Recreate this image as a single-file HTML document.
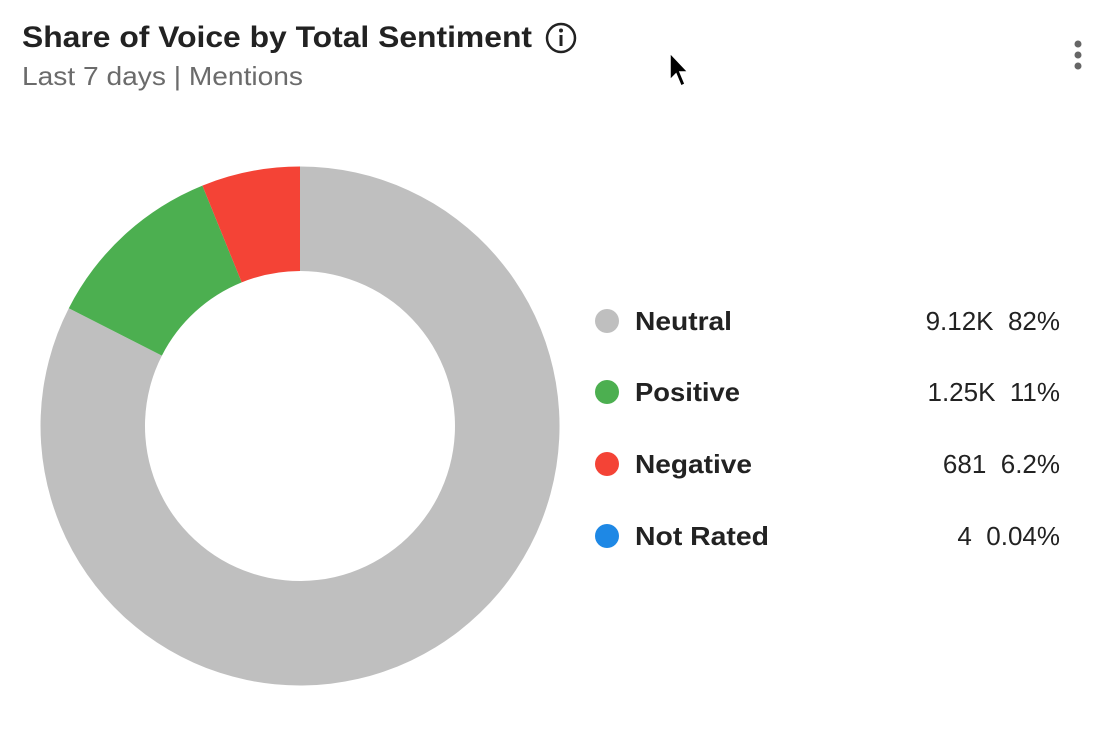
<!DOCTYPE html>
<html><head><style>
body{margin:0;width:1120px;height:750px;background:#fff;overflow:hidden;font-family:"Liberation Sans",Arial,sans-serif;}
</style></head><body>
<svg width="1120" height="750" xmlns="http://www.w3.org/2000/svg">
<text x="22" y="47" font-size="30" font-weight="bold" fill="#222" font-family="Liberation Sans, sans-serif" textLength="510" lengthAdjust="spacingAndGlyphs">Share of Voice by Total Sentiment</text>
<circle cx="561" cy="38" r="14" fill="none" stroke="#222" stroke-width="2.5"/>
<circle cx="561" cy="30.5" r="2" fill="#222"/>
<rect x="559.5" y="35" width="3" height="11" fill="#222"/>
<text x="22" y="85" font-size="26" fill="#6b6b6b" font-family="Liberation Sans, sans-serif" textLength="281" lengthAdjust="spacingAndGlyphs">Last 7 days | Mentions</text>
<circle cx="1078" cy="44" r="3.5" fill="#666"/>
<circle cx="1078" cy="55" r="3.5" fill="#666"/>
<circle cx="1078" cy="66" r="3.5" fill="#666"/>
<path d="M670,53 L670,80 L676,74 L681,86 L685,84 L680,72 L688,72 Z" fill="#000" stroke="#fff" stroke-width="1.5"/>
<g transform="translate(300,426)">
<path d="M0,-259.5 A259.5,259.5 0 1 1 -231.2,-117.8 L-138.1,-70.4 A155,155 0 1 0 0,-155 Z" fill="#bfbfbf"/>
<path d="M-231.2,-117.8 A259.5,259.5 0 0 1 -97.6,-240.4 L-58.3,-143.6 A155,155 0 0 0 -138.1,-70.4 Z" fill="#4caf50"/>
<path d="M-97.6,-240.4 A259.5,259.5 0 0 1 0,-259.5 L0,-155 A155,155 0 0 0 -58.3,-143.6 Z" fill="#f44336"/>
</g>
<g font-family="Liberation Sans, sans-serif" font-size="26">
<circle cx="607" cy="321" r="12" fill="#bfbfbf"/>
<text x="635" y="330" font-weight="bold" fill="#222" textLength="97" lengthAdjust="spacingAndGlyphs">Neutral</text>
<text x="1060" y="330" text-anchor="end" fill="#222" xml:space="preserve">9.12K  82%</text>
<circle cx="607" cy="392" r="12" fill="#4caf50"/>
<text x="635" y="401" font-weight="bold" fill="#222" textLength="105" lengthAdjust="spacingAndGlyphs">Positive</text>
<text x="1060" y="401" text-anchor="end" fill="#222" xml:space="preserve">1.25K  11%</text>
<circle cx="607" cy="464" r="12" fill="#f44336"/>
<text x="635" y="473" font-weight="bold" fill="#222" textLength="117" lengthAdjust="spacingAndGlyphs">Negative</text>
<text x="1060" y="473" text-anchor="end" fill="#222" xml:space="preserve">681  6.2%</text>
<circle cx="607" cy="536" r="12" fill="#1e88e5"/>
<text x="635" y="545" font-weight="bold" fill="#222" textLength="134" lengthAdjust="spacingAndGlyphs">Not Rated</text>
<text x="1060" y="545" text-anchor="end" fill="#222" xml:space="preserve">4  0.04%</text>
</g>
</svg>
</body></html>
